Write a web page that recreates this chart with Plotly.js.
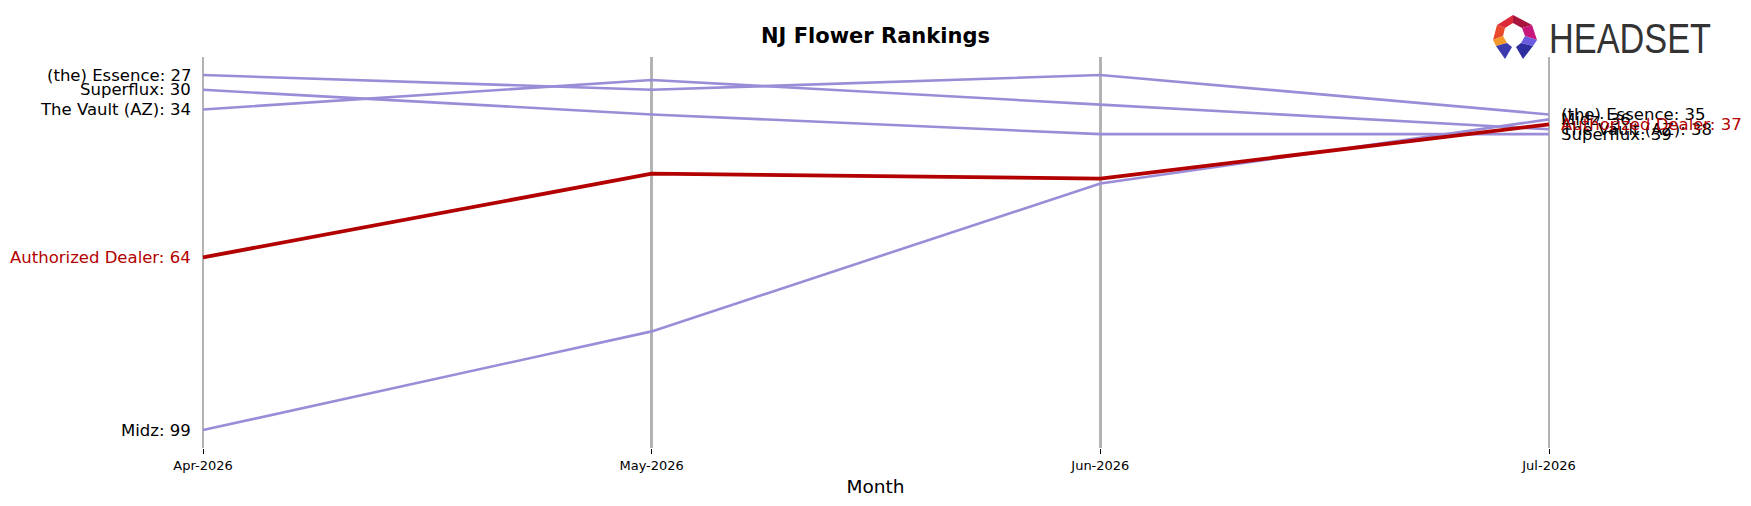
<!DOCTYPE html>
<html>
<head>
<meta charset="utf-8">
<script src="https://cdn.plot.ly/plotly-3.0.1.min.js"></script>
<style>html,body{margin:0;padding:0;background:#fff;}#chart{width:1751px;height:506px;}</style>
</head>
<body>
<div id="chart"></div>
<script>
// ---- data ----
const months = ['Apr-2026', 'May-2026', 'Jun-2026', 'Jul-2026'];
const brands = ['(the) Essence', 'Superflux', 'The Vault (AZ)', 'Midz', 'Authorized Dealer'];
const essence = [27, 30, 27, 35];
const superflux = [30, 35, 39, 39];
const vault = [34, 28, 33, 38];
const midz = [99, 79, 49, 36];
const authorized = [64, 47, 48, 37];
const highlight = 'Authorized Dealer';

const seriesValues = [essence, superflux, vault, midz, authorized];

// ---- styling ----
const PURPLE = '#9b8cd8';
const RED = '#b30000';
const FONT = 'DejaVu Sans, Liberation Sans, sans-serif';

const L = 180, R = 180, T = 57, B = 58, WIDTH = 1751, HEIGHT = 506;
const PW = WIDTH - L - R, PH = HEIGHT - T - B;

const traces = [];
const annotations = [];
brands.forEach((b, i) => {
  const vals = seriesValues[i];
  const hl = b === highlight;
  traces.push({
    x: months, y: vals, type: 'scatter', mode: 'lines', name: b,
    line: {color: hl ? RED : PURPLE, width: hl ? 3.8 : 2.6},
    hoverinfo: 'skip', showlegend: false
  });
  annotations.push({
    x: months[0], y: vals[0], xref: 'x', yref: 'y',
    text: b + ': ' + vals[0], showarrow: false,
    xanchor: 'right', yanchor: 'middle', xshift: -10,
    font: {family: FONT, size: 16.5, color: hl ? RED : '#000000'}
  });
  annotations.push({
    x: months[months.length - 1], y: vals[vals.length - 1], xref: 'x', yref: 'y',
    text: b + ': ' + vals[vals.length - 1], showarrow: false,
    xanchor: 'left', yanchor: 'middle', xshift: 10,
    font: {family: FONT, size: 16.5, color: hl ? RED : '#000000'}
  });
});

// logo text
function px2x(px) { return (px - L) / PW; }
function px2y(py) { return (HEIGHT - B - py) / PH; }
annotations.push({
  x: px2x(1547), y: px2y(38), xref: 'paper', yref: 'paper',
  text: 'HEADSET', showarrow: false, xanchor: 'left', yanchor: 'middle',
  font: {family: 'Liberation Sans, sans-serif', size: 43, color: '#333333'}
});

// logo icon polygons (pixel coords)
const logoPolys = [
  {pts: [[1497,25],[1513,15],[1513,23],[1505,28]], c: '#dc2a3a'},
  {pts: [[1513,15],[1532,25],[1522,28],[1513,23]], c: '#a8143c'},
  {pts: [[1497,25],[1505,28],[1503,36],[1493,40]], c: '#e8482c'},
  {pts: [[1493,40],[1503,36],[1507,43],[1496,46]], c: '#f39a2a'},
  {pts: [[1496,46],[1507,43],[1512,47],[1505,59]], c: '#3b3aae'},
  {pts: [[1532,25],[1522,28],[1525,36],[1537,40]], c: '#c8177c'},
  {pts: [[1537,40],[1525,36],[1521,43],[1533,46]], c: '#6b5ce0'},
  {pts: [[1533,46],[1521,43],[1516,47],[1523,59]], c: '#2e2f9e'}
];
const shapes = logoPolys.map(p => ({
  type: 'path', xref: 'paper', yref: 'paper',
  path: 'M ' + p.pts.map(q => px2x(q[0]) + ',' + px2y(q[1])).join(' L ') + ' Z',
  fillcolor: p.c, line: {width: 0}
}));

const layout = {
  width: WIDTH, height: HEIGHT,
  margin: {l: L, r: R, t: T, b: B},
  paper_bgcolor: '#ffffff', plot_bgcolor: '#ffffff',
  title: {
    text: '<b>NJ Flower Rankings</b>', x: 0.5, xref: 'paper',
    y: 1 - 36 / HEIGHT, yref: 'container', yanchor: 'middle',
    font: {family: FONT, size: 21, color: '#000000'}
  },
  xaxis: {
    type: 'category', range: [-0.0513, 3.049],
    showgrid: true, gridcolor: '#b3b3b3', gridwidth: 2.7,
    zeroline: false, showline: false,
    ticks: 'outside', ticklen: 5, tickcolor: '#000000', tickwidth: 1,
    tickfont: {family: FONT, size: 13, color: '#000000'},
    title: {text: 'Month', font: {family: FONT, size: 18.5, color: '#000000'}, standoff: 8},
    fixedrange: true
  },
  yaxis: {
    range: [102.65, 23.35],
    showgrid: false, zeroline: false, showline: false,
    showticklabels: false, ticks: '', fixedrange: true
  },
  annotations: annotations,
  shapes: shapes,
  showlegend: false
};

Plotly.newPlot('chart', traces, layout, {displayModeBar: false, staticPlot: true}).then(() => {
  // condense the logo wordmark horizontally to the reference width
  const texts = document.querySelectorAll('#chart text.annotation-text');
  texts.forEach(t => {
    if (t.textContent === 'HEADSET') {
      const bb = t.getBBox();
      const s = 162 / bb.width;
      const x0 = bb.x;
      t.setAttribute('transform', 'translate(' + x0 + ',0) scale(' + s + ',1) translate(' + (-x0) + ',0)');
    }
  });
});
</script>
</body>
</html>
